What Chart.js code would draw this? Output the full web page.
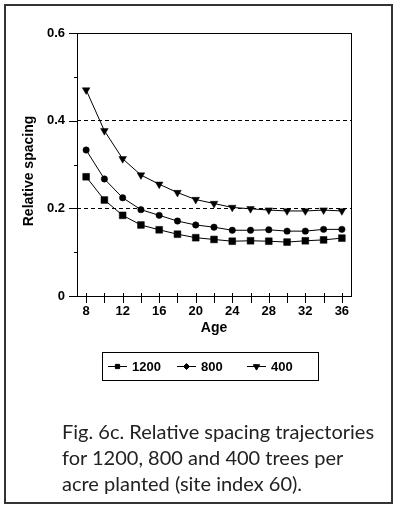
<!DOCTYPE html>
<html>
<head>
<meta charset="utf-8">
<title>Relative spacing trajectories</title>
<script src="https://cdn.jsdelivr.net/npm/chart.js@4.4.1/dist/chart.umd.min.js"></script>
<style>
  html, body { margin: 0; padding: 0; background: #fff; }
  #page { position: relative; width: 400px; height: 508px; overflow: hidden; }
  #chart { position: absolute; left: 0; top: 0; }
  #frame { position: absolute; left: 4px; top: 4px; width: 389px; height: 500px; box-sizing: border-box; border: 2px solid #333; }
  #caption { position: absolute; left: 62px; top: 418px; font: 20px Lato, sans-serif; line-height: 26px; color: #222; white-space: nowrap; }
</style>
</head>
<body>
<div id="page">
  <canvas id="chart" width="400" height="508"></canvas>
  <div id="frame"></div>
  <div id="caption">Fig. 6c. Relative spacing trajectories<br>for 1200, 800 and 400 trees per<br>acre planted (site index 60).</div>
</div>
<script>
// ages (x) and the three planting densities
const ages = [8, 10, 12, 14, 16, 18, 20, 22, 24, 26, 28, 30, 32, 34, 36];
const seriesNames = ["1200", "800", "400"];
const spacing1200 = [0.272, 0.219, 0.184, 0.162, 0.151, 0.141, 0.133, 0.129, 0.125, 0.126, 0.125, 0.123, 0.126, 0.128, 0.132];
const spacing800 = [0.333, 0.267, 0.224, 0.197, 0.184, 0.171, 0.162, 0.157, 0.150, 0.150, 0.151, 0.148, 0.148, 0.152, 0.152];
const spacing400 = [0.470, 0.377, 0.313, 0.276, 0.255, 0.236, 0.220, 0.211, 0.202, 0.199, 0.196, 0.194, 0.194, 0.196, 0.194];

const xTickLabels = ["8", "", "12", "", "16", "", "20", "", "24", "", "28", "", "32", "", "36"];
const yTicks = [0, 0.1, 0.2, 0.3, 0.4, 0.5, 0.6];
const yTickLabels = ["0", "", "0.2", "", "0.4", "", "0.6"];
const dashedLevels = [0.2, 0.4];

const FONT = "'Liberation Sans', Arial, sans-serif";

function toPoints(values) {
    return ages.map((a, i) => ({ x: a, y: values[i] }));
}

function makeSet(label, values, style, radius, rotation) {
    return {
        label: label,
        data: toPoints(values),
        borderColor: "#000",
        borderWidth: 1,
        backgroundColor: "#000",
        pointBackgroundColor: "#000",
        pointBorderColor: "#000",
        pointBorderWidth: 0.5,
        pointStyle: style,
        pointRadius: radius,
        pointRotation: rotation,
        tension: 0,
    };
}

// frame, tick marks, y title and the boxed legend
const plotExtras = {
    id: "plotExtras",
    beforeDatasetsDraw(chart) {
        const { ctx, chartArea: area, scales: { x, y } } = chart;
        ctx.save();
        ctx.strokeStyle = "#000";
        ctx.lineWidth = 1;
        ctx.setLineDash([]);
        ctx.strokeRect(Math.round(area.left) + 0.5, Math.round(area.top) + 0.5,
            Math.round(area.right - area.left), Math.round(area.bottom - area.top));
        ctx.beginPath();
        ages.forEach(v => {
            const px = Math.round(x.getPixelForValue(v)) + 0.5;
            ctx.moveTo(px, area.bottom - 3);
            ctx.lineTo(px, area.bottom + 7);
        });
        yTicks.forEach((v, i) => {
            const py = Math.round(y.getPixelForValue(v)) + 0.5;
            const len = yTickLabels[i] ? 8 : 3;
            ctx.moveTo(area.left - len, py);
            ctx.lineTo(area.left + (yTickLabels[i] ? 0 : 1), py);
        });
        ctx.stroke();
        ctx.restore();
    },
    afterDraw(chart) {
        const { ctx } = chart;
        ctx.save();
        // y axis title
        ctx.fillStyle = "#000";
        ctx.font = "bold 14px " + FONT;
        ctx.textAlign = "center";
        ctx.textBaseline = "middle";
        ctx.translate(29.5, 171);
        ctx.rotate(-Math.PI / 2);
        ctx.fillText("Relative spacing", 0, 0);
        ctx.restore();

        // legend box
        ctx.save();
        ctx.strokeStyle = "#000";
        ctx.lineWidth = 1;
        ctx.strokeRect(102.5, 352.5, 216, 28);
        const itemX = [108, 177, 247];
        const cy = 366.5;
        ctx.font = "bold 13px " + FONT;
        ctx.textBaseline = "middle";
        ctx.textAlign = "left";
        chart.data.datasets.forEach((ds, i) => {
            const x0 = itemX[i];
            ctx.beginPath();
            ctx.moveTo(x0, cy);
            ctx.lineTo(x0 + 19, cy);
            ctx.stroke();
            ctx.fillStyle = "#000";
            Chart.helpers.drawPoint(ctx, {
                pointStyle: i === 1 ? "rectRot" : ds.pointStyle,
                radius: i === 2 ? 3.6 : 3,
                rotation: ds.pointRotation || 0,
                borderWidth: 0.5,
            }, x0 + 9.5, cy);
            ctx.fillText(ds.label, x0 + 24, cy + 0.5);
        });
        ctx.restore();
    },
};

new Chart(document.getElementById("chart"), {
    type: "line",
    data: {
        datasets: [
            makeSet(seriesNames[0], spacing1200, "rect", 4.8, 0),
            makeSet(seriesNames[1], spacing800, "circle", 3.2, 0),
            makeSet(seriesNames[2], spacing400, "triangle", 4.4, 180),
        ],
    },
    options: {
        responsive: false,
        animation: false,
        layout: { padding: { top: 33, right: 49, bottom: 171, left: 0 } },
        plugins: {
            legend: { display: false },
            tooltip: { enabled: false },
        },
        scales: {
            x: {
                type: "linear",
                min: 7,
                max: 37,
                afterBuildTicks: scale => { scale.ticks = ages.map(v => ({ value: v })); },
                afterFit: scale => { scale.height = 41; },
                grid: { display: false, drawTicks: false },
                border: { display: false },
                ticks: {
                    color: "#000",
                    padding: 8,
                    autoSkip: false,
                    maxRotation: 0,
                    font: { family: FONT, size: 13, weight: "bold" },
                    callback: (v, i) => xTickLabels[i],
                },
                title: {
                    display: true,
                    text: "Age",
                    color: "#000",
                    padding: 0,
                    font: { family: FONT, size: 14, weight: "bold" },
                },
            },
            y: {
                type: "linear",
                min: 0,
                max: 0.6,
                afterBuildTicks: scale => { scale.ticks = yTicks.map(v => ({ value: v })); },
                afterFit: scale => { scale.width = 77; },
                grid: {
                    drawTicks: false,
                    lineWidth: 1,
                    color: c => dashedLevels.some(l => Math.abs(c.tick.value - l) < 1e-9) ? "#000" : "rgba(0,0,0,0)",
                },
                border: { display: false, dash: [4, 3] },
                ticks: {
                    color: "#000",
                    padding: 12,
                    autoSkip: false,
                    font: { family: FONT, size: 13, weight: "bold" },
                    callback: (v, i) => yTickLabels[i],
                },
            },
        },
    },
    plugins: [plotExtras],
});
</script>
</body>
</html>
